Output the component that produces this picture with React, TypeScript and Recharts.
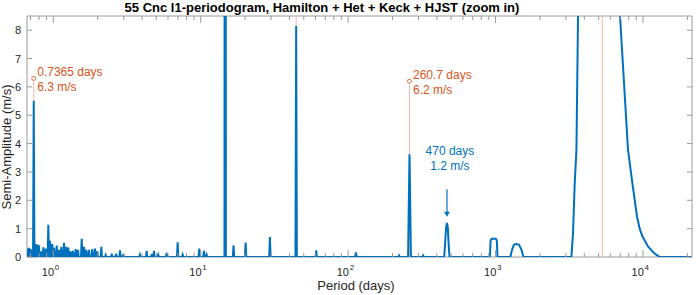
import React from "react";
import {
  Line,
  LineChart,
  ReferenceArea,
  ReferenceDot,
  ReferenceLine,
  XAxis,
  YAxis,
} from "recharts";

const BLUE = "#0072BD";
const ORANGE = "#D95319";
const PALE = "#f2bba4";
const BOX = "#9a9a9a";
const TXT = "#262626";
const FONT = "'Liberation Sans', Arial, Helvetica, sans-serif";

const W = 696;
const H = 295;
const PLOT_W = 665; // 27 .. 692
const PLOT_H = 241; // 16 .. 257

const X_MIN = 0.663;
const X_MAX = 21500;
const Y_MAX = 8.5;

const majorTicks = [1, 10, 100, 1000, 10000];
const minorTicks = [
  0.7, 0.8, 0.9, 2, 3, 4, 5, 6, 7, 8, 9, 20, 30, 40, 50, 60, 70, 80, 90, 200,
  300, 400, 500, 600, 700, 800, 900, 2000, 3000, 4000, 5000, 6000, 7000, 8000,
  9000, 20000,
];
const yTicks = [0, 1, 2, 3, 4, 5, 6, 7, 8];

// narrow periodogram spikes (period in days, amplitude in m/s)
const spikePeriods = [
  0.667, 0.686, 0.703, 0.7365, 0.76, 0.779, 0.798, 0.825, 0.856, 0.888, 0.925,
  0.95, 0.984, 1.011, 1.054, 1.093, 1.133, 1.182, 1.225, 1.264, 1.312, 1.36,
  1.419, 1.471, 1.558, 1.615, 1.674, 1.746, 1.838, 1.918, 1.988, 2.116, 2.266,
  2.489, 2.662, 2.833, 2.983, 3.871, 4.298, 4.647, 4.817, 5.151, 5.873, 6.973,
  7.541, 9.77, 10.51, 10.96, 14.65, 16.69, 20.16, 29.46, 44.4, 60.7, 112.8,
  221.8, 322.5,
];
const spikeAmps = [
  0.3, 0.32, 0.28, 5.51, 0.46, 0.44, 0.41, 0.2, 0.34, 0.3, 1.14, 0.57, 0.46,
  0.32, 0.4, 0.25, 0.36, 0.5, 0.36, 0.33, 0.2, 0.22, 0.28, 0.25, 0.64, 0.36,
  0.25, 0.25, 0.28, 0.3, 0.2, 0.36, 0.07, 0.12, 0.12, 0.23, 0.1, 0.08, 0.22,
  0.1, 0.22, 0.08, 0.14, 0.52, 0.08, 0.3, 0.22, 0.08, 60, 0.41, 0.51, 0.7,
  8.15, 0.23, 0.16, 0.05, 0.05,
];

// resolved peaks
const peak260P = [255, 258.5, 260.7, 263, 266.5];
const peak260A = [0, 2.3, 3.62, 2.3, 0];
const peak470P = [448, 455, 462, 468, 474, 480, 487];
const peak470A = [0, 0.5, 1.05, 1.2, 1.05, 0.5, 0];
const bump1000P = [915, 925, 940, 1005, 1020, 1030];
const bump1000A = [0, 0.58, 0.64, 0.64, 0.58, 0];
const bump1400P = [1258, 1300, 1335, 1380, 1440, 1500, 1545];
const bump1400A = [0, 0.3, 0.44, 0.46, 0.44, 0.25, 0];
const longP = [
  3270, 3353, 3443, 3536, 3625, 4200, 5300, 6300, 6984, 7913, 8477, 9106, 9497,
  9906, 10810, 11870, 12980,
];
const longA = [
  0, 0.85, 2.6, 3.78, 8.5, 22, 25, 20, 8.5, 3.78, 2.6, 1.43, 1.0, 0.73, 0.37,
  0.14, 0,
];

// marked peaks
const markP = [0.7365, 260.7];
const markA = [6.3, 6.2];
const markDays = ["0.7365 days", "260.7 days"];
const markMs = ["6.3 m/s", "6.2 m/s"];
const fullLines = [44.4, 5300];

function buildData() {
  const pts: { p: number; a: number }[] = [];
  spikePeriods.forEach((p, i) => {
    pts.push({ p: p / 1.011, a: 0 }, { p, a: spikeAmps[i] }, { p: p * 1.011, a: 0 });
  });
  const shapes: [number[], number[]][] = [
    [peak260P, peak260A],
    [peak470P, peak470A],
    [bump1000P, bump1000A],
    [bump1400P, bump1400A],
    [longP, longA],
  ];
  shapes.forEach(([ps, as]) => ps.forEach((p, i) => pts.push({ p, a: as[i] })));
  pts.push({ p: X_MAX, a: 0 });
  pts.sort((u, v) => u.p - v.p);
  return pts;
}

const data = buildData();

function XTick(props: any) {
  const { x, y, payload } = props;
  const major = majorTicks.includes(payload.value);
  const len = major ? 7 : 4;
  const top = y - PLOT_H;
  return (
    <g>
      <line x1={x} x2={x} y1={y} y2={y - len} stroke={BOX} />
      <line x1={x} x2={x} y1={top} y2={top + len} stroke={BOX} />
      {major && (
        <text fill={TXT} fontFamily={FONT}>
          <tspan x={x + 0.8} y={y + 18.7} fontSize={11} textAnchor="end">
            10
          </tspan>
          <tspan x={x + 1.5} y={y + 13} fontSize={8}>
            {Math.round(Math.log10(payload.value))}
          </tspan>
        </text>
      )}
    </g>
  );
}

function YTick(props: any) {
  const { x, y, payload } = props;
  return (
    <g>
      <line x1={x} x2={x + 5} y1={y} y2={y} stroke={BOX} />
      <line x1={x + PLOT_W} x2={x + PLOT_W - 5} y1={y} y2={y} stroke={BOX} />
      <text
        x={x - 6}
        y={y + 4}
        textAnchor="end"
        fontSize={11}
        fill={TXT}
        fontFamily={FONT}
      >
        {payload.value}
      </text>
    </g>
  );
}

function MarkShape(i: number) {
  return (props: any) => {
    const { cx, cy } = props;
    return (
      <g>
        <circle cx={cx} cy={cy} r={2} fill="#fff" stroke={ORANGE} strokeWidth={0.8} />
        <text x={cx + 3.5} y={cy - 2.5} fontSize={12} fill={ORANGE} fontFamily={FONT}>
          {markDays[i]}
        </text>
        <text x={cx + 3.5} y={cy + 12.5} fontSize={12} fill={ORANGE} fontFamily={FONT}>
          {markMs[i]}
        </text>
      </g>
    );
  };
}

function ArrowShape(props: any) {
  const { cx, cy } = props;
  const tip = cy + 27.4;
  return (
    <g>
      <line x1={cx} x2={cx} y1={cy} y2={tip - 4} stroke={BLUE} strokeWidth={1.2} />
      <path d={`M${cx - 3},${tip - 5} L${cx + 3},${tip - 5} L${cx},${tip} Z`} fill={BLUE} />
      <text x={cx + 3} y={cy - 34.6} fontSize={12} fill={BLUE} textAnchor="middle" fontFamily={FONT}>
        470 days
      </text>
      <text x={cx + 3} y={cy - 19} fontSize={12} fill={BLUE} textAnchor="middle" fontFamily={FONT}>
        1.2 m/s
      </text>
    </g>
  );
}

export default function App() {
  return (
    <div
      style={{
        position: "absolute",
        left: 0,
        top: 0,
        width: W,
        height: H,
        background: "#fff",
        fontFamily: FONT,
      }}
    >
      <LineChart
        width={W}
        height={H}
        data={data}
        margin={{ top: 16, right: 4, bottom: 0, left: 0 }}
      >
        <ReferenceArea
          x1={X_MIN}
          x2={X_MAX}
          y1={0}
          y2={Y_MAX}
          fill="none"
          stroke={BOX}
          strokeWidth={1}
        />
        <XAxis
          dataKey="p"
          type="number"
          scale="log"
          domain={[X_MIN, X_MAX]}
          allowDataOverflow
          ticks={[...majorTicks, ...minorTicks].sort((a, b) => a - b)}
          interval={0}
          height={38}
          tickSize={0}
          tickMargin={0}
          tickLine={false}
          axisLine={false}
          tick={XTick}
        />
        <YAxis
          type="number"
          domain={[0, Y_MAX]}
          allowDataOverflow
          ticks={yTicks}
          interval={0}
          width={27}
          tickSize={0}
          tickMargin={0}
          tickLine={false}
          axisLine={false}
          tick={YTick}
        />
        {fullLines.map((p) => (
          <ReferenceLine key={p} x={p} stroke={PALE} strokeWidth={1} />
        ))}
        {markP.map((p, i) => (
          <ReferenceLine
            key={"s" + p}
            segment={[
              { x: p, y: 0 },
              { x: p, y: markA[i] },
            ]}
            stroke={PALE}
            strokeWidth={1}
          />
        ))}
        <Line
          dataKey="a"
          type="linear"
          stroke={BLUE}
          strokeWidth={2}
          dot={false}
          activeDot={false}
          isAnimationActive={false}
        />
        {markP.map((p, i) => (
          <ReferenceDot key={"d" + p} x={p} y={markA[i]} r={2} shape={MarkShape(i)} />
        ))}
        <ReferenceDot x={468} y={2.39} r={0} shape={ArrowShape} />
      </LineChart>
      <svg
        width={W}
        height={H}
        style={{ position: "absolute", left: 0, top: 0, pointerEvents: "none" }}
      >
        <text x={322} y={11.5} textAnchor="middle" fontSize={13} fontWeight="bold" fill="#000" fontFamily={FONT}>
          55 Cnc l1-periodogram, Hamilton + Het + Keck + HJST (zoom in)
        </text>
        <text x={356} y={289.5} textAnchor="middle" fontSize={13} fill={TXT} fontFamily={FONT}>
          Period (days)
        </text>
        <text
          transform="translate(11,147) rotate(-90)"
          textAnchor="middle"
          fontSize={13}
          fill={TXT}
          fontFamily={FONT}
        >
          Semi-Amplitude (m/s)
        </text>
      </svg>
    </div>
  );
}
